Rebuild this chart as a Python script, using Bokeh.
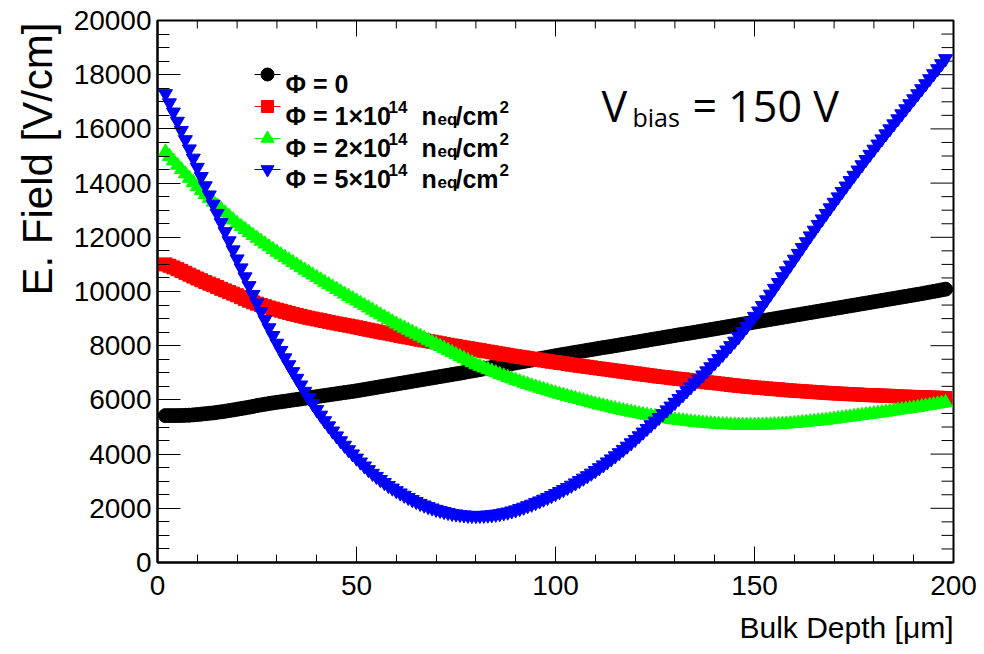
import math
from bokeh.plotting import figure
from bokeh.models import Range1d, SingleIntervalTicker, Label, Title
from bokeh.embed import file_html
from bokeh.resources import INLINE

# ---------------- data ----------------
depth_um = list(range(2, 199))   # one point per micrometre, 2..198

field_phi0 = [5420, 5420, 5420, 5422, 5425, 5430, 5435, 5447, 5460, 5475,
              5490, 5505, 5520, 5540, 5560, 5582, 5605, 5630, 5655, 5680,
              5705, 5732, 5760, 5790, 5815, 5840, 5865, 5888, 5910, 5930,
              5950, 5972, 5995, 6015, 6035, 6058, 6080, 6100, 6120, 6142,
              6165, 6185, 6205, 6228, 6250, 6270, 6290, 6312, 6335, 6360,
              6385, 6410, 6435, 6460, 6485, 6510, 6535, 6560, 6585, 6610,
              6635, 6660, 6685, 6710, 6735, 6760, 6785, 6810, 6835, 6860,
              6885, 6910, 6935, 6960, 6985, 7012, 7040, 7065, 7090, 7118,
              7145, 7172, 7200, 7228, 7255, 7282, 7310, 7338, 7365, 7390,
              7415, 7442, 7470, 7495, 7520, 7548, 7575, 7602, 7630, 7655,
              7680, 7705, 7730, 7755, 7780, 7805, 7830, 7855, 7880, 7905,
              7930, 7952, 7975, 8000, 8025, 8050, 8075, 8100, 8125, 8150,
              8175, 8200, 8225, 8250, 8275, 8300, 8325, 8350, 8375, 8400,
              8425, 8448, 8470, 8495, 8520, 8545, 8570, 8595, 8620, 8645,
              8670, 8695, 8720, 8745, 8770, 8795, 8820, 8845, 8870, 8895,
              8920, 8945, 8970, 8995, 9020, 9045, 9070, 9095, 9120, 9145,
              9170, 9195, 9220, 9245, 9270, 9295, 9320, 9345, 9370, 9395,
              9420, 9445, 9470, 9495, 9520, 9545, 9570, 9595, 9620, 9645,
              9670, 9695, 9720, 9745, 9770, 9795, 9820, 9845, 9870, 9895,
              9920, 9948, 9975, 10002, 10030, 10058, 10085]

field_phi1 = [11000, 10950, 10890, 10825, 10760, 10690, 10620, 10550, 10480, 10415,
              10350, 10290, 10230, 10165, 10100, 10040, 9980, 9920, 9860, 9790,
              9720, 9660, 9600, 9550, 9500, 9455, 9410, 9370, 9330, 9290,
              9250, 9210, 9170, 9135, 9100, 9065, 9030, 9000, 8970, 8940,
              8910, 8880, 8850, 8820, 8790, 8765, 8740, 8710, 8680, 8650,
              8620, 8590, 8560, 8530, 8500, 8475, 8450, 8420, 8390, 8360,
              8330, 8305, 8280, 8250, 8220, 8195, 8170, 8145, 8120, 8090,
              8060, 8035, 8010, 7985, 7960, 7935, 7910, 7885, 7860, 7835,
              7810, 7785, 7760, 7735, 7710, 7685, 7660, 7635, 7610, 7590,
              7570, 7545, 7520, 7500, 7480, 7455, 7430, 7410, 7390, 7370,
              7350, 7325, 7300, 7280, 7260, 7240, 7220, 7200, 7180, 7160,
              7140, 7120, 7100, 7080, 7060, 7040, 7020, 7000, 6980, 6960,
              6940, 6920, 6900, 6880, 6860, 6845, 6830, 6810, 6790, 6775,
              6760, 6740, 6720, 6705, 6690, 6670, 6650, 6635, 6620, 6605,
              6590, 6570, 6550, 6535, 6520, 6505, 6490, 6475, 6460, 6450,
              6440, 6425, 6410, 6400, 6390, 6375, 6360, 6350, 6340, 6330,
              6320, 6310, 6300, 6290, 6280, 6270, 6260, 6250, 6240, 6235,
              6230, 6220, 6210, 6205, 6200, 6190, 6180, 6175, 6170, 6165,
              6160, 6155, 6150, 6140, 6130, 6125, 6120, 6115, 6110, 6105,
              6100, 6095, 6090, 6085, 6080, 6075, 6070]

field_phi2 = [15150, 14985, 14820, 14660, 14500, 14340, 14180, 14025, 13870, 13725,
              13580, 13440, 13300, 13165, 13030, 12900, 12770, 12640, 12510, 12400,
              12290, 12180, 12070, 11965, 11860, 11755, 11650, 11550, 11450, 11355,
              11260, 11165, 11070, 10975, 10880, 10790, 10700, 10610, 10520, 10430,
              10340, 10255, 10170, 10080, 9990, 9905, 9820, 9735, 9650, 9565,
              9480, 9395, 9310, 9225, 9140, 9055, 8970, 8885, 8800, 8725,
              8650, 8575, 8500, 8425, 8350, 8275, 8200, 8125, 8050, 7975,
              7900, 7825, 7750, 7675, 7600, 7525, 7450, 7375, 7300, 7240,
              7180, 7120, 7060, 7000, 6940, 6885, 6830, 6775, 6720, 6670,
              6620, 6570, 6520, 6475, 6430, 6385, 6340, 6295, 6250, 6210,
              6170, 6130, 6090, 6050, 6010, 5970, 5930, 5890, 5850, 5815,
              5780, 5745, 5710, 5675, 5640, 5610, 5580, 5550, 5520, 5490,
              5460, 5435, 5410, 5385, 5360, 5335, 5310, 5285, 5260, 5245,
              5230, 5210, 5190, 5175, 5160, 5145, 5130, 5120, 5110, 5100,
              5090, 5085, 5080, 5075, 5070, 5068, 5065, 5065, 5065, 5068,
              5070, 5075, 5080, 5085, 5090, 5100, 5110, 5120, 5130, 5145,
              5160, 5175, 5190, 5205, 5220, 5235, 5250, 5270, 5290, 5310,
              5330, 5350, 5370, 5390, 5410, 5430, 5450, 5470, 5490, 5510,
              5530, 5550, 5570, 5595, 5620, 5640, 5660, 5680, 5700, 5725,
              5750, 5775, 5800, 5825, 5850, 5875, 5900]

field_phi5 = [17300, 16960, 16620, 16280, 15940, 15600, 15260, 14920, 14580, 14240,
              13900, 13560, 13220, 12880, 12540, 12205, 11870, 11535, 11200, 10870,
              10540, 10215, 9890, 9575, 9260, 8960, 8660, 8375, 8090, 7820,
              7550, 7295, 7040, 6795, 6550, 6315, 6080, 5860, 5640, 5435,
              5230, 5040, 4850, 4670, 4490, 4325, 4160, 4005, 3850, 3705,
              3560, 3425, 3290, 3175, 3060, 2950, 2840, 2745, 2650, 2565,
              2480, 2400, 2320, 2250, 2180, 2120, 2060, 2010, 1960, 1920,
              1880, 1845, 1810, 1790, 1770, 1755, 1740, 1735, 1730, 1735,
              1740, 1750, 1760, 1780, 1800, 1830, 1860, 1900, 1940, 1990,
              2040, 2095, 2150, 2210, 2270, 2335, 2400, 2470, 2540, 2615,
              2690, 2770, 2850, 2935, 3020, 3110, 3200, 3295, 3390, 3495,
              3600, 3710, 3820, 3935, 4050, 4170, 4290, 4415, 4540, 4675,
              4810, 4945, 5080, 5215, 5350, 5490, 5630, 5770, 5910, 6050,
              6190, 6335, 6480, 6625, 6770, 6920, 7070, 7220, 7370, 7525,
              7680, 7840, 8000, 8165, 8330, 8515, 8700, 8890, 9080, 9280,
              9480, 9690, 9900, 10115, 10330, 10545, 10760, 10975, 11190, 11405,
              11620, 11835, 12050, 12260, 12470, 12675, 12880, 13085, 13290, 13490,
              13690, 13890, 14090, 14285, 14480, 14675, 14870, 15060, 15250, 15440,
              15630, 15815, 16000, 16185, 16370, 16555, 16740, 16925, 17110, 17295,
              17480, 17665, 17850, 18035, 18220, 18405, 18590]

x_range_um = (0, 200)
y_range_field = (0, 20000)
x_tick_step = 50
x_minor_step = 10
y_tick_step = 2000
y_minor_step = 500

legend_main = ["\u03a6 = 0", "\u03a6 = 1\u00d710", "\u03a6 = 2\u00d710", "\u03a6 = 5\u00d710"]
legend_exp = "14"
legend_unit_n = "n"
legend_unit_sub = "eq"
legend_unit_cm = "/cm"
legend_unit_sq = "2"
series_colors = ["#000000", "#ff0000", "#00ff00", "#0000ff"]
series_markers = ["circle", "square", "triangle", "inverted_triangle"]
series_sizes = [14, 13, 14, 14]

x_title = "Bulk Depth [\u03bcm]"
y_title = "E. Field [V/cm]"
bias_main = "V"
bias_sub = "bias"
bias_rest = "= 150 V"

# ---------------- layout helpers (page px -> data) ----------------
W, H = 984, 654
FL, FR, FT, FB = 157, 953, 20, 562   # frame edges in canvas pixels


def px2x(px):
    return x_range_um[0] + (px - FL) * (x_range_um[1] - x_range_um[0]) / (FR - FL)


def py2y(py):
    return y_range_field[0] + (FB - py) * (y_range_field[1] - y_range_field[0]) / (FB - FT)


XPP = (x_range_um[1] - x_range_um[0]) / (FR - FL)      # data per pixel
YPP = (y_range_field[1] - y_range_field[0]) / (FB - FT)

p = figure(width=W, height=H, output_backend="svg", toolbar_location=None,
           x_range=Range1d(*x_range_um), y_range=Range1d(*y_range_field),
           min_border_left=FL, min_border_right=W - FR,
           min_border_top=FT, min_border_bottom=H - FB)
p.background_fill_color = "white"
p.border_fill_color = "white"
p.grid.visible = False
p.outline_line_color = "black"
p.outline_line_width = 2

FONT = "Liberation Sans"


def style_axis(ax, tick_in, minor_in):
    ax.axis_line_color = "black"
    ax.axis_line_width = 2
    ax.major_tick_in = tick_in
    ax.major_tick_out = 0
    ax.minor_tick_in = minor_in
    ax.minor_tick_out = 0
    ax.major_tick_line_color = "black"
    ax.minor_tick_line_color = "black"
    ax.major_tick_line_width = 1
    ax.minor_tick_line_width = 1
    ax.major_label_text_font = FONT
    ax.major_label_text_font_size = "28px"
    ax.major_label_text_color = "black"


xa = p.xaxis[0]
xa.ticker = SingleIntervalTicker(interval=x_tick_step, num_minor_ticks=x_tick_step // x_minor_step)
style_axis(xa, 16, 8)
xa.major_label_standoff = 13

ya = p.yaxis[0]
ya.ticker = SingleIntervalTicker(interval=y_tick_step, num_minor_ticks=y_tick_step // y_minor_step)
style_axis(ya, 23, 12)
ya.major_label_standoff = 6

# mirrored ticks on the top and right frame edges (ROOT style)
top_major = list(range(x_range_um[0], x_range_um[1] + 1, x_tick_step))
top_minor = [v for v in range(x_range_um[0], x_range_um[1] + 1, x_minor_step) if v % x_tick_step]
right_major = list(range(y_range_field[0], y_range_field[1] + 1, y_tick_step))
right_minor = [v for v in range(y_range_field[0], y_range_field[1] + 1, y_minor_step) if v % y_tick_step]
ytop = y_range_field[1]
xright = x_range_um[1]
for vals, ln in ((top_major, 16), (top_minor, 8)):
    p.segment(x0=vals, y0=[ytop] * len(vals), x1=vals, y1=[ytop - ln * YPP] * len(vals),
              line_color="black", line_width=1)
for vals, ln in ((right_major, 23), (right_minor, 12)):
    p.segment(x0=[xright] * len(vals), y0=vals, x1=[xright - ln * XPP] * len(vals), y1=vals,
              line_color="black", line_width=1)

# ---------------- series ----------------
for ys, col, mk, sz in zip([field_phi0, field_phi1, field_phi2, field_phi5],
                           series_colors, series_markers, series_sizes):
    p.scatter(depth_um, ys, marker=mk, size=sz, fill_color=col, line_color=col)

# ---------------- legend (manual, for super/subscripts) ----------------
row_base = [83, 115, 147, 178]
key_x0, key_x1, key_xc = 254, 280, 267
for i, (col, mk, sz) in enumerate(zip(series_colors, series_markers, series_sizes)):
    yc = row_base[i] - 9
    p.segment(x0=[px2x(key_x0)], y0=[py2y(yc)], x1=[px2x(key_x1)], y1=[py2y(yc)],
              line_color=col, line_width=1)
    p.scatter([px2x(key_xc)], [py2y(yc)], marker=mk, size=sz - 1,
              fill_color=col, line_color=col)


def add_label(px, py, text, size, bold=True, font=FONT):
    p.add_layout(Label(x=px2x(px), y=py2y(py), text=text, text_font=font,
                       text_font_size=size, text_font_style="bold" if bold else "normal",
                       text_color="black", text_align="left", text_baseline="alphabetic"))


for i, txt in enumerate(legend_main):
    b = row_base[i]
    add_label(285, b, txt, "25px")
    if i > 0:
        add_label(388, b - 9, legend_exp, "17px")
        add_label(421, b, legend_unit_n, "25px")
        add_label(437, b + 4, legend_unit_sub, "17px")
        add_label(455, b, legend_unit_cm, "25px")
        add_label(499, b - 9, legend_unit_sq, "17px")

# ---------------- annotations ----------------
add_label(601, 105, bias_main, "43px", bold=False, font="Open Sans")
add_label(632, 116, bias_sub, "25px", bold=False, font="Open Sans")
add_label(692, 105, bias_rest, "43px", bold=False, font="Open Sans")

# axis titles (ROOT style: aligned to the far end of the axis)
p.add_layout(Title(text=x_title, align="right", text_font=FONT, text_font_size="30px",
                   text_font_style="normal", text_color="black", standoff=22,
                   offset=0), "below")
p.add_layout(Title(text=y_title, align="right", text_font=FONT, text_font_size="42px",
                   text_font_style="normal", text_color="black", standoff=20,
                   offset=2), "left")

open("out.html", "w").write(file_html(p, INLINE))
